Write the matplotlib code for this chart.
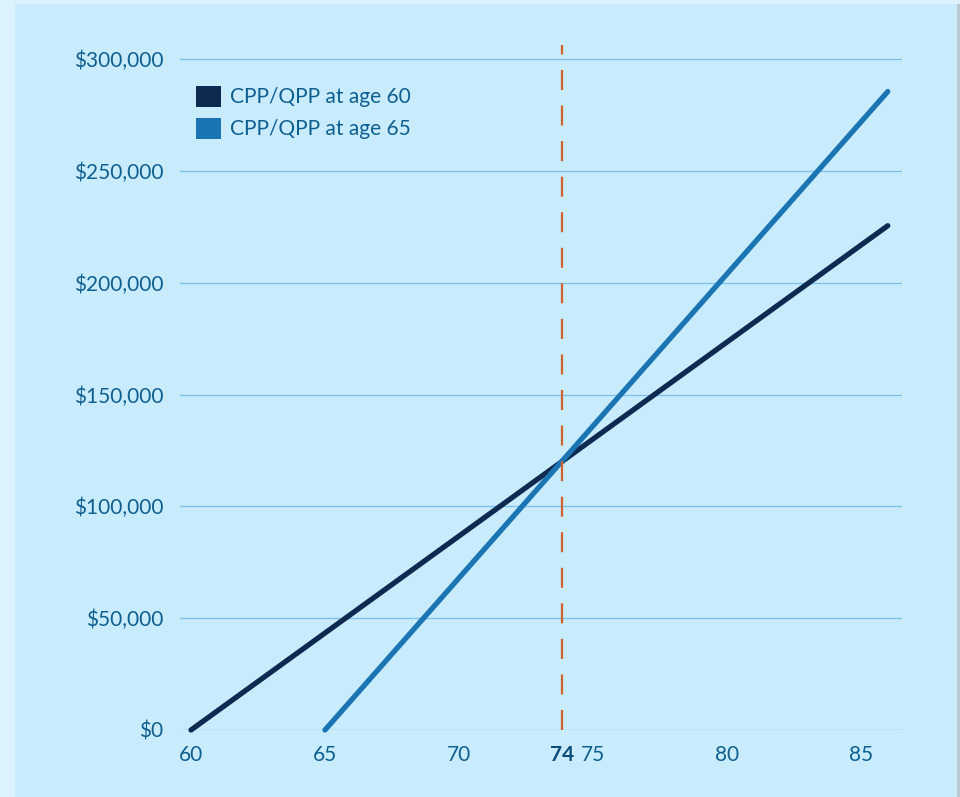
import matplotlib.pyplot as plt
from matplotlib.patches import Patch, Rectangle
from matplotlib.ticker import FuncFormatter

# data
ages_60 = [60, 86]
total_60 = [0, 225500]
ages_65 = [65, 86]
total_65 = [0, 285500]
breakeven_age = 73.85
breakeven_label = '74'
labels = ['CPP/QPP at age 60', 'CPP/QPP at age 65']
x_ticks = [60, 65, 70, 75, 80, 85]
y_ticks = [0, 50000, 100000, 150000, 200000, 250000, 300000]

dark = '#0e2a50'
light = '#1c75b3'
orange = '#d2622b'
text_col = '#0f5f8f'
grid_col = '#7fc3e8'

plt.rcParams['font.family'] = ['Lato', 'DejaVu Sans']

fig = plt.figure(figsize=(9.6, 7.97), dpi=100)
fig.patch.set_facecolor('#dcf2fd')
# inner panel
fig.patches.append(Rectangle((15 / 960, 0), 942 / 960, 793 / 797, transform=fig.transFigure,
                             facecolor='#c8ecfc', edgecolor='none', zorder=-2))
fig.patches.append(Rectangle((957 / 960, 0), 3 / 960, 793 / 797, transform=fig.transFigure,
                             facecolor='#b9c9d2', edgecolor='none', zorder=-2))

ax = fig.add_axes([180 / 960, 67 / 797, 722 / 960, 685 / 797])
ax.set_facecolor('none')

ax.plot(ages_60, total_60, color=dark, lw=3.8, solid_capstyle='round', clip_on=False, zorder=3)
ax.plot(ages_65, total_65, color=light, lw=3.8, solid_capstyle='round', clip_on=False, zorder=4)
ax.axvline(breakeven_age, color=orange, lw=1.6, dashes=(9, 7), zorder=5)

ax.set_xlim(59.59, 86.53)
ax.set_ylim(0, 306300)

ax.set_yticks(y_ticks)
ax.yaxis.set_major_formatter(FuncFormatter(lambda v, p: '${:,.0f}'.format(v)))
ticks = sorted(x_ticks + [breakeven_age])
ax.set_xticks(ticks)
ax.set_xticklabels([breakeven_label if t == breakeven_age else str(t) for t in ticks])

ax.tick_params(axis='both', length=0, labelsize=15, labelcolor=text_col)
ax.tick_params(axis='y', pad=12)
ax.tick_params(axis='x', pad=11)
for lbl in ax.get_xticklabels():
    if lbl.get_text() == breakeven_label:
        lbl.set_fontweight('bold')
        lbl.set_color('#0a4c7a')

ax.grid(axis='y', color=grid_col, lw=1)
ax.set_axisbelow(True)
for s in ax.spines.values():
    s.set_visible(False)

handles = [Patch(facecolor=dark), Patch(facecolor=light)]
leg = ax.legend(handles, labels, loc='upper left', bbox_to_anchor=(0.0105, 0.953), frameon=False,
                fontsize=15, handlelength=1.2, handleheight=1.2, handletextpad=0.45,
                labelspacing=0.5, borderaxespad=0)
for t in leg.get_texts():
    t.set_color(text_col)

fig.savefig('out.png', dpi=100, facecolor=fig.get_facecolor())
